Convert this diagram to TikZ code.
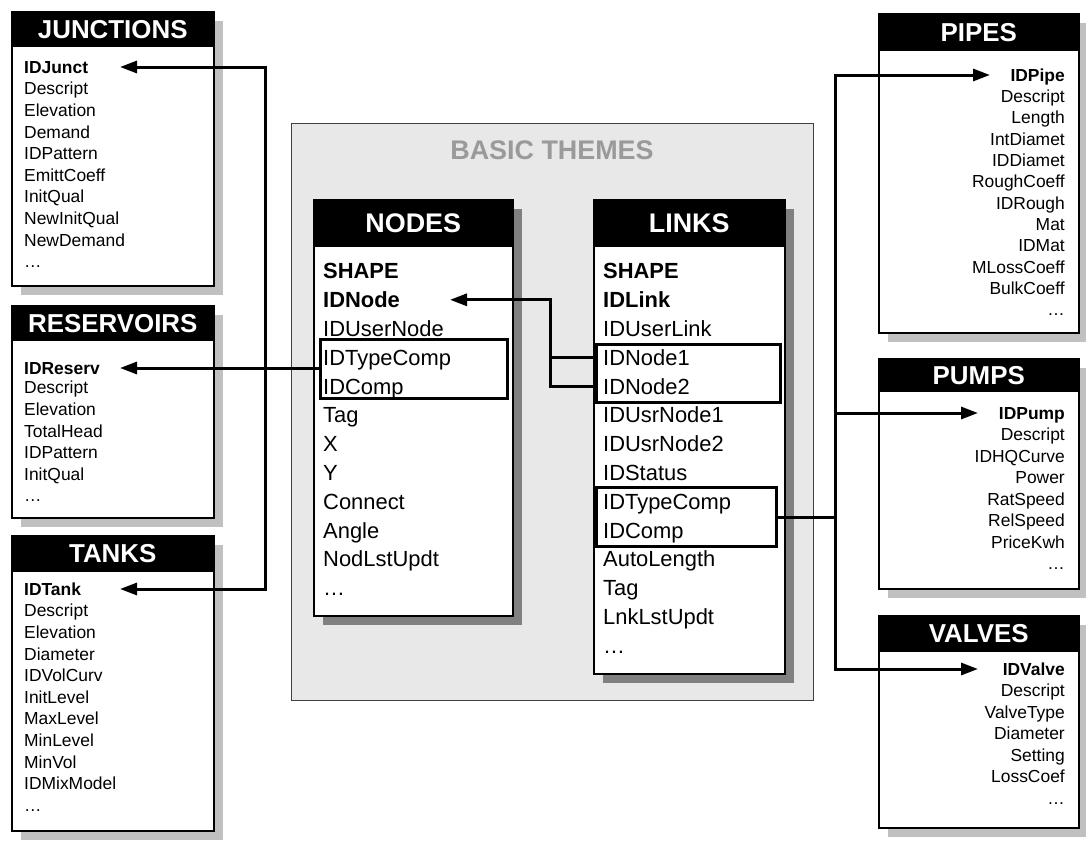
\documentclass[tikz,border=0pt]{standalone}
\usepackage{fontspec}
\setmainfont{Liberation Sans}
\usetikzlibrary{arrows.meta, shadows}

\definecolor{shlight}{HTML}{C0C0C0}
\definecolor{shdark}{HTML}{808080}
\definecolor{themebg}{HTML}{E8E8E8}
\definecolor{themetxt}{HTML}{9A9A9A}

\tikzset{
  tbl/.style={draw, line width=1.5bp, fill=white, anchor=north west, inner sep=0pt,
    drop shadow={shadow xshift=9bp, shadow yshift=-9bp, fill=shlight, opacity=1}},
  ctbl/.style={draw, line width=1.5bp, fill=white, anchor=north west, inner sep=0pt,
    drop shadow={shadow xshift=9bp, shadow yshift=-9bp, fill=shdark, opacity=1}},
  ttl/.style={fill=black, draw=black, line width=1.5bp, text=white, anchor=north west,
    inner sep=0pt, text height=18.7bp, text depth=0pt,
    font=\fontsize{26}{26}\selectfont\bfseries},
  fld/.style={inner sep=0pt, anchor=west, text height=12.6bp, text depth=0pt,
    font=\fontsize{17.5}{18}\selectfont},
  fldr/.style={fld, anchor=east},
  key/.style={font=\fontsize{17.5}{18}\selectfont\bfseries},
  cfld/.style={inner sep=0pt, anchor=west, text height=15.8bp, text depth=0pt,
    font=\fontsize{22}{24}\selectfont},
  ckey/.style={font=\fontsize{22}{24}\selectfont\bfseries},
  hl/.style={draw, line width=3bp, anchor=north west, inner sep=0pt},
  conn/.style={line width=3bp},
}

\begin{document}
\begin{tikzpicture}[x=1bp, y=-1bp, >={Triangle[length=17bp,width=12bp]}]
\useasboundingbox (0,0) rectangle (1086,845);

% basic themes
\node[draw=black!75, line width=1.2bp, fill=themebg, anchor=north west, inner sep=0pt,
  minimum width=522bp, minimum height=577bp] (basic) at (291,123) {};
\node[text=themetxt, font=\fontsize{27}{27}\selectfont\bfseries] (basic-t) at (552,150) {BASIC THEMES};

% nodes
\node[ctbl, minimum width=199bp, minimum height=416bp] (nodes) at (313,199) {};
\node[ttl, minimum width=199bp, minimum height=46bp, font=\fontsize{27}{27}\selectfont\bfseries] (nodes-t) at (313,199) {NODES};
\node[cfld, ckey] (nodes-1) at (323,271) {SHAPE};
\node[cfld, ckey] (nodes-2) at (323,299.8) {IDNode};
\foreach \t [count=\i from 3] in {IDUserNode, IDTypeComp, IDComp, Tag, X, Y, Connect, Angle, NodLstUpdt, \ldots}
  \node[cfld] (nodes-\i) at (323, {271+(\i-1)*28.8}) {\t};
\node[hl, minimum width=187bp, minimum height=59bp] (nodeshl) at (319,338) {};

% links
\node[ctbl, minimum width=191bp, minimum height=474bp] (links) at (593,199) {};
\node[ttl, minimum width=191bp, minimum height=46bp, font=\fontsize{27}{27}\selectfont\bfseries] (links-t) at (593,199) {LINKS};
\node[cfld, ckey] (links-1) at (603,271) {SHAPE};
\node[cfld, ckey] (links-2) at (603,299.8) {IDLink};
\foreach \t [count=\i from 3] in {IDUserLink, IDNode1, IDNode2, IDUsrNode1, IDUsrNode2, IDStatus, IDTypeComp, IDComp, AutoLength, Tag, LnkLstUpdt, \ldots}
  \node[cfld] (links-\i) at (603, {271+(\i-1)*28.8}) {\t};
\node[hl, minimum width=184bp, minimum height=58bp] (linkshl) at (595,343) {};
\node[hl, minimum width=180bp, minimum height=59bp] (linkshl2) at (595,486) {};

% junctions
\node[tbl, minimum width=202bp, minimum height=274bp] (junc) at (11,11) {};
\node[ttl, minimum width=202bp, minimum height=34bp] (junc-t) at (11,11) {JUNCTIONS};
\node[fld, key] (junc-1) at (24,67) {IDJunct};
\foreach \t [count=\i from 2] in {Descript, Elevation, Demand, IDPattern, EmittCoeff, InitQual, NewInitQual, NewDemand, \ldots}
  \node[fld] (junc-\i) at (24, {67+(\i-1)*21.6}) {\t};

% reservoirs
\node[tbl, minimum width=202bp, minimum height=212bp] (res) at (11,305) {};
\node[ttl, minimum width=202bp, minimum height=34bp] (res-t) at (11,305) {RESERVOIRS};
\node[fld, key] (res-1) at (24,368) {IDReserv};
\foreach \t [count=\i from 2] in {Descript, Elevation, TotalHead, IDPattern, InitQual, \ldots}
  \node[fld] (res-\i) at (24, {366+(\i-1)*21.6}) {\t};

% tanks
\node[tbl, minimum width=202bp, minimum height=295bp] (tank) at (11,535) {};
\node[ttl, minimum width=202bp, minimum height=35bp] (tank-t) at (11,535) {TANKS};
\node[fld, key] (tank-1) at (24,589) {IDTank};
\foreach \t [count=\i from 2] in {Descript, Elevation, Diameter, IDVolCurv, InitLevel, MaxLevel, MinLevel, MinVol, IDMixModel, \ldots}
  \node[fld] (tank-\i) at (24, {589+(\i-1)*21.6}) {\t};

% pipes
\node[tbl, minimum width=200bp, minimum height=319bp] (pipe) at (878,13) {};
\node[ttl, minimum width=200bp, minimum height=36bp] (pipe-t) at (878,13) {PIPES};
\node[fldr, key] (pipe-1) at (1065,75) {IDPipe};
\foreach \t [count=\i from 2] in {Descript, Length, IntDiamet, IDDiamet, RoughCoeff, IDRough, Mat, IDMat, MLossCoeff, BulkCoeff, \ldots}
  \node[fldr] (pipe-\i) at (1065, {75+(\i-1)*21.3}) {\t};

% pumps
\node[tbl, minimum width=200bp, minimum height=230bp] (pump) at (878,358) {};
\node[ttl, minimum width=200bp, minimum height=32bp] (pump-t) at (878,358) {PUMPS};
\node[fldr, key] (pump-1) at (1065,413) {IDPump};
\foreach \t [count=\i from 2] in {Descript, IDHQCurve, Power, RatSpeed, RelSpeed, PriceKwh, \ldots}
  \node[fldr] (pump-\i) at (1065, {413+(\i-1)*21.5}) {\t};

% valves
\node[tbl, minimum width=200bp, minimum height=212bp] (valve) at (878,615) {};
\node[ttl, minimum width=200bp, minimum height=35bp] (valve-t) at (878,615) {VALVES};
\node[fldr, key] (valve-1) at (1065,669) {IDValve};
\foreach \t [count=\i from 2] in {Descript, ValveType, Diameter, Setting, LossCoef, \ldots}
  \node[fldr] (valve-\i) at (1065, {669+(\i-1)*21.5}) {\t};

% connectors
\coordinate (ltip) at (120,0);
\coordinate (lbus) at (265,368);
\coordinate (ntip) at (450,0);
\coordinate (mbus) at (550,299.8);
\coordinate (rbus) at (835,0);
\coordinate (ptip) at (990,0);
\coordinate (vtip) at (978,0);
\draw[conn, <->] (junc-1 -| ltip) -| (lbus) |- (tank-1 -| ltip);
\draw[conn, ->] (res-1 -| nodeshl.west) -- (res-1 -| ltip);
\draw[conn] (linkshl.west |- links-4) -| (mbus);
\draw[conn, ->] (linkshl.west |- links-5) -| (mbus) -- (nodes-2 -| ntip);
\draw[conn, <->] (pipe-1 -| ptip) -| (linkshl2.east -| rbus) |- (valve-1 -| vtip);
\draw[conn] (linkshl2.east) -- (linkshl2.east -| rbus);
\draw[conn, ->] (pump-1 -| rbus) -- (pump-1 -| vtip);
\end{tikzpicture}
\end{document}
